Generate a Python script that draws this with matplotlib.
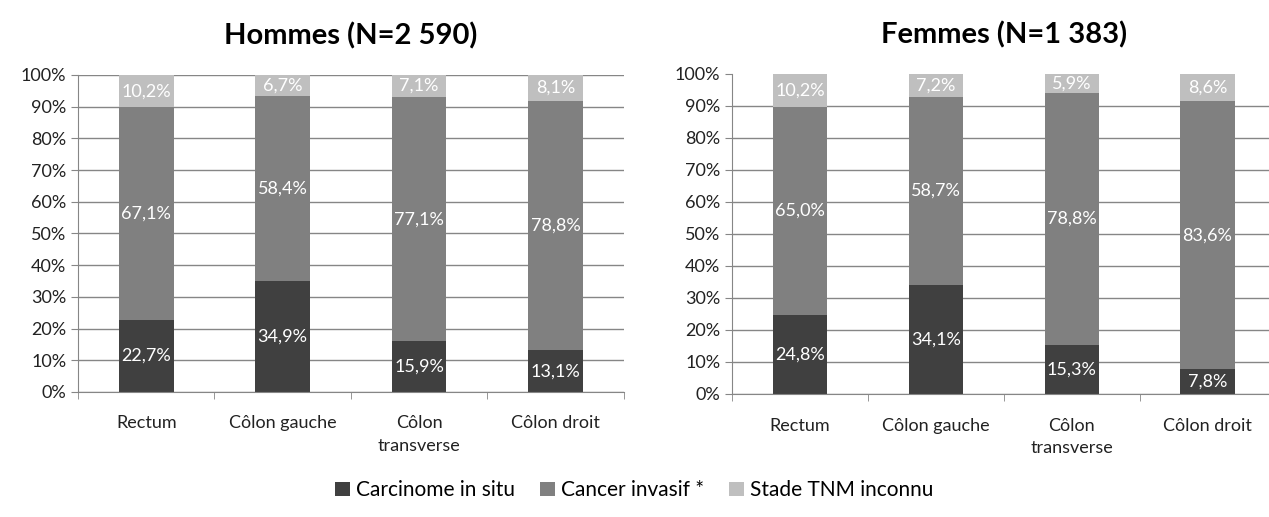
import matplotlib.pyplot as plt
from matplotlib.ticker import PercentFormatter

plt.rcParams['font.family'] = ['Lato', 'DejaVu Sans']

categories = ["Rectum", "Côlon gauche", "Côlon\ntransverse", "Côlon droit"]
series_names = ["Carcinome in situ", "Cancer invasif *", "Stade TNM inconnu"]
colors = ["#404040", "#808080", "#bfbfbf"]

hommes_in_situ = [22.7, 34.9, 15.9, 13.1]
hommes_invasif = [67.1, 58.4, 77.1, 78.8]
hommes_inconnu = [10.2, 6.7, 7.1, 8.1]

femmes_in_situ = [24.8, 34.1, 15.3, 7.8]
femmes_invasif = [65.0, 58.7, 78.8, 83.6]
femmes_inconnu = [10.2, 7.2, 5.9, 8.6]

fig = plt.figure(figsize=(12.69, 5.17), dpi=100)
ax1 = fig.add_axes([0.0615, 0.242, 0.430, 0.613])
ax2 = fig.add_axes([0.577, 0.238, 0.428, 0.619])

panels = [
    (ax1, "Hommes (N=2 590)", [hommes_in_situ, hommes_invasif, hommes_inconnu]),
    (ax2, "Femmes (N=1 383)", [femmes_in_situ, femmes_invasif, femmes_inconnu]),
]

x = range(len(categories))
for ax, title, series in panels:
    bottom = [0] * len(categories)
    for name, vals, col in zip(series_names, series, colors):
        bars = ax.bar(x, vals, 0.4, bottom=bottom, color=col, label=name, zorder=2)
        ax.bar_label(bars, labels=[f"{v:.1f}%".replace(".", ",") for v in vals],
                     label_type='center', color='white', fontsize=13)
        bottom = [b + v for b, v in zip(bottom, vals)]

    ax.set_xlim(-0.5, len(categories) - 0.5)
    ax.set_ylim(0, 100)
    ax.set_yticks(range(0, 101, 10))
    ax.yaxis.set_major_formatter(PercentFormatter(decimals=0))
    ax.set_xticks(x)
    ax.set_xticklabels(categories, fontsize=13, color='#222222', linespacing=1.5)
    ax.set_xticks([i + 0.5 for i in range(-1, len(categories))], minor=True)
    ax.tick_params(axis='x', which='major', length=0, pad=17)
    ax.tick_params(axis='x', which='minor', length=5, color='#868686')
    ax.tick_params(axis='y', length=5, color='#868686', labelsize=13, labelcolor='#222222')
    ax.grid(axis='y', color='#868686', linewidth=1, zorder=1)
    ax.set_axisbelow(True)
    for s in ['top', 'right']:
        ax.spines[s].set_visible(False)
    for s in ['left', 'bottom']:
        ax.spines[s].set_color('#868686')
    ax.set_title(title, fontsize=21, fontweight='bold', pad=22)

ax2.yaxis.get_gridlines()[-1].set_visible(False)

handles, labels = ax1.get_legend_handles_labels()
fig.legend(handles, labels, loc='center', bbox_to_anchor=(0.5, 0.052), ncol=3,
           frameon=False, fontsize=15, handlelength=0.7, handleheight=0.7,
           handletextpad=0.3, columnspacing=1.2)

fig.savefig("out.png", dpi=100)
